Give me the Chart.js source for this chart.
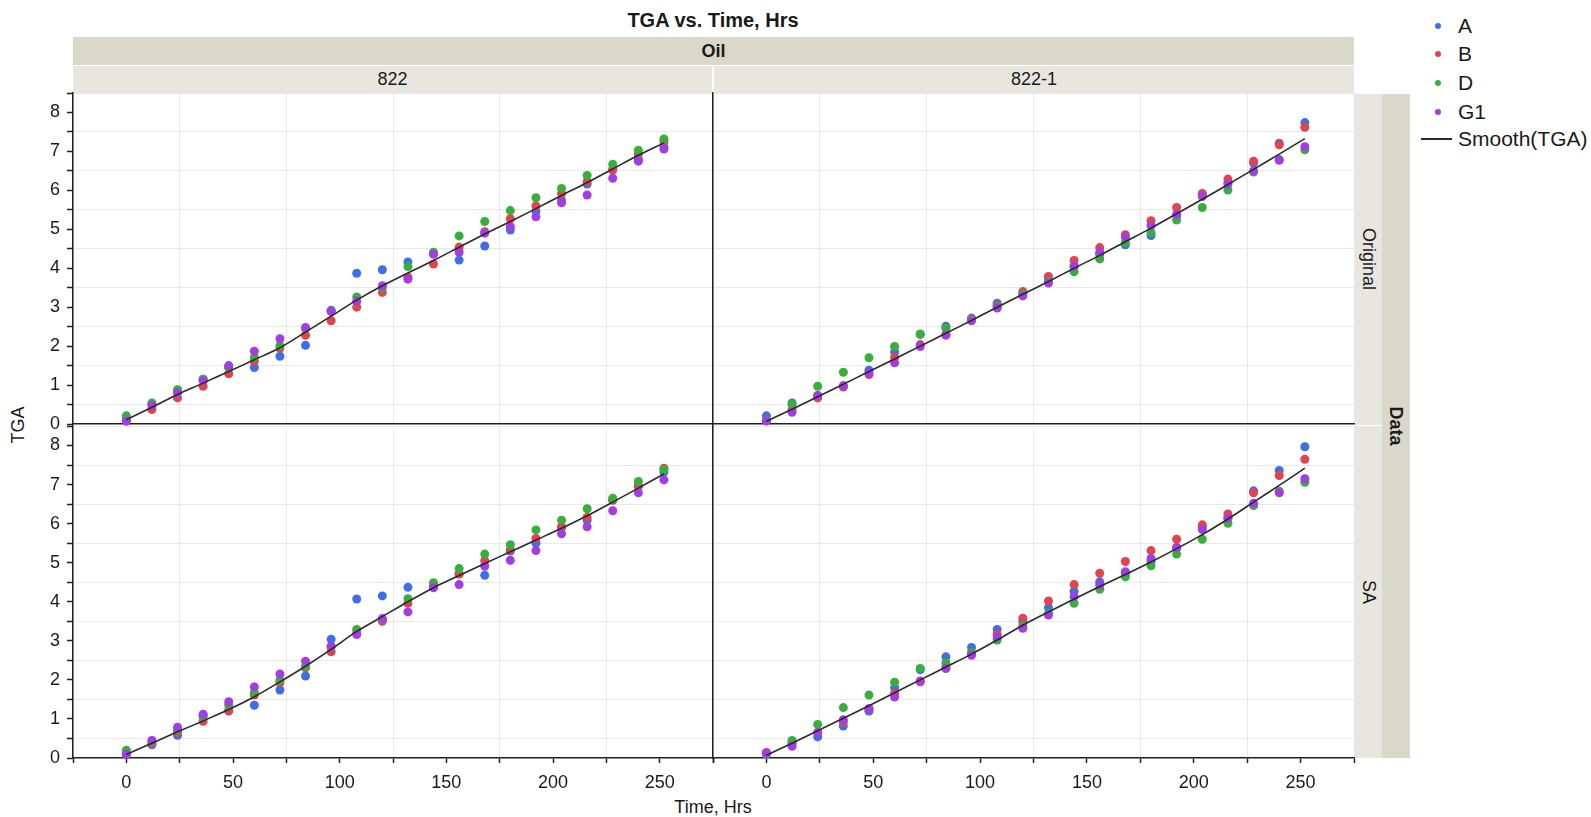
<!DOCTYPE html>
<html>
<head>
<meta charset="utf-8">
<script src="https://cdn.jsdelivr.net/npm/chart.js@4.4.0/dist/chart.umd.min.js"></script>
<style>
html,body{margin:0;padding:0;background:#fff;width:1591px;height:817px;overflow:hidden;
  font-family:"Liberation Sans",Arial,sans-serif;color:#1a1a1a;}
canvas{position:absolute;}
.band{position:absolute;display:flex;align-items:center;justify-content:center;font-size:18px;box-sizing:border-box;}
.rot{position:absolute;white-space:nowrap;font-size:18px;line-height:20px;transform:translate(-50%,-50%) rotate(90deg);}
.rotl{position:absolute;white-space:nowrap;font-size:18px;line-height:20px;transform:translate(-50%,-50%) rotate(-90deg);}
.txt{position:absolute;white-space:nowrap;}
.leg{position:absolute;left:1421px;height:24px;display:flex;align-items:center;font-size:21px;}
.dot{position:absolute;left:14px;width:6px;height:6px;border-radius:50%;}
.ltxt{position:absolute;left:37px;white-space:nowrap;line-height:24px;}
</style>
</head>
<body>
<div class="txt" style="left:0;width:1426px;top:8px;text-align:center;font-weight:bold;font-size:20px;line-height:24px;">TGA vs. Time, Hrs</div>

<div class="band" style="left:73px;top:37px;width:1281px;height:28px;background:#DAD8C9;font-weight:bold;">Oil</div>
<div class="band" style="left:73px;top:66px;width:639px;height:27px;background:#E8E7DF;">822</div>
<div class="band" style="left:714px;top:66px;width:640px;height:27px;background:#E8E7DF;">822-1</div>

<div class="band" style="left:1355px;top:94px;width:27px;height:331px;background:#E8E7DF;"></div>
<div class="band" style="left:1355px;top:426px;width:27px;height:332px;background:#E8E7DF;"></div>
<div class="band" style="left:1382px;top:94px;width:28px;height:664px;background:#DAD8C9;"></div>
<div class="rot" style="left:1369px;top:259px;">Original</div>
<div class="rot" style="left:1369px;top:592px;">SA</div>
<div class="rot" style="left:1396px;top:426px;font-weight:bold;">Data</div>

<div class="rotl" style="left:18px;top:425px;">TGA</div>
<div class="txt" style="left:0;width:1426px;top:796px;text-align:center;font-size:18px;line-height:22px;">Time, Hrs</div>

<canvas id="pTL"></canvas>
<canvas id="pTR"></canvas>
<canvas id="pBL"></canvas>
<canvas id="pBR"></canvas>

<div id="legend"></div>

<script>
// ---- data ----
const hours = [0,12,24,36,48,60,72,84,96,108,120,132,144,156,168,180,192,204,216,228,240,252];
const seriesNames = ['A','B','D','G1'];
const smoothName = 'Smooth(TGA)';
const xTickLabels = ['0','50','100','150','200','250'];
const yTickLabels = ['0','1','2','3','4','5','6','7','8'];

// Oil 822, Data Original
const o822_A  = [0.10,0.50,0.85,1.15,1.45,1.45,1.74,2.02,2.92,3.87,3.96,4.16,4.38,4.21,4.57,4.98,5.46,5.75,6.16,6.55,6.80,7.12];
const o822_B  = [0.10,0.37,0.67,0.97,1.29,1.61,1.95,2.28,2.65,3.00,3.38,3.77,4.11,4.54,4.94,5.27,5.60,5.92,6.22,6.52,6.93,7.25];
const o822_D  = [0.21,0.54,0.88,1.15,1.45,1.71,2.01,2.45,2.90,3.26,3.50,4.04,4.41,4.83,5.20,5.48,5.81,6.05,6.38,6.67,7.03,7.32];
const o822_G1 = [0.07,0.47,0.80,1.11,1.50,1.87,2.19,2.48,2.89,3.15,3.55,3.72,4.36,4.41,4.90,5.07,5.32,5.68,5.88,6.31,6.75,7.06];
const o822_S  = [0.11,0.43,0.76,1.05,1.35,1.65,1.96,2.36,2.77,3.18,3.55,3.88,4.20,4.54,4.88,5.20,5.53,5.87,6.20,6.55,6.90,7.22];

// Oil 822-1, Data Original
const o8221_A  = [0.21,0.54,0.73,0.98,1.38,1.85,2.30,2.51,2.72,3.10,3.35,3.70,4.05,4.35,4.60,4.84,5.35,5.90,6.20,6.70,7.21,7.74];
const o8221_B  = [0.08,0.37,0.67,0.95,1.27,1.71,2.04,2.30,2.70,3.05,3.40,3.79,4.20,4.53,4.86,5.22,5.56,5.92,6.29,6.75,7.17,7.62];
const o8221_D  = [0.09,0.50,0.97,1.33,1.70,1.99,2.31,2.46,2.68,3.02,3.34,3.66,3.91,4.24,4.66,4.91,5.24,5.56,6.01,6.47,6.79,7.04];
const o8221_G1 = [0.08,0.30,0.73,0.98,1.31,1.57,1.99,2.28,2.65,2.98,3.29,3.62,4.05,4.41,4.80,5.09,5.38,5.84,6.16,6.50,6.77,7.12];
const o8221_S  = [0.07,0.38,0.70,1.02,1.35,1.67,2.00,2.33,2.66,3.00,3.33,3.66,4.00,4.33,4.68,5.03,5.40,5.77,6.15,6.54,6.93,7.33];

// Oil 822, Data SA
const s822_A  = [0.10,0.34,0.58,1.10,1.20,1.35,1.74,2.10,3.04,4.07,4.15,4.37,4.40,4.72,4.68,5.30,5.50,5.90,6.09,6.60,6.95,7.32];
const s822_B  = [0.10,0.38,0.65,0.94,1.22,1.61,1.93,2.31,2.72,3.20,3.50,3.96,4.43,4.71,5.05,5.33,5.62,5.92,6.16,6.61,6.97,7.42];
const s822_D  = [0.20,0.42,0.72,1.05,1.35,1.67,1.99,2.35,2.85,3.29,3.55,4.08,4.49,4.85,5.22,5.46,5.84,6.09,6.38,6.65,7.08,7.38];
const s822_G1 = [0.09,0.45,0.79,1.12,1.44,1.82,2.15,2.48,2.86,3.16,3.57,3.74,4.36,4.44,4.91,5.06,5.31,5.74,5.92,6.33,6.79,7.12];
const s822_S  = [0.09,0.38,0.67,0.95,1.24,1.57,1.95,2.35,2.78,3.24,3.62,4.00,4.36,4.67,4.98,5.28,5.58,5.88,6.20,6.55,6.91,7.27];

// Oil 822-1, Data SA
const s8221_A  = [0.12,0.40,0.54,0.82,1.20,1.80,2.26,2.59,2.83,3.29,3.49,3.85,4.27,4.51,4.73,5.03,5.37,5.92,6.16,6.84,7.36,7.97];
const s8221_B  = [0.14,0.37,0.65,0.92,1.26,1.65,1.97,2.33,2.68,3.17,3.58,4.02,4.44,4.73,5.03,5.31,5.60,5.97,6.25,6.79,7.23,7.65];
const s8221_D  = [0.09,0.45,0.86,1.29,1.61,1.94,2.29,2.44,2.70,3.02,3.38,3.70,3.96,4.32,4.64,4.92,5.22,5.60,6.01,6.46,6.83,7.06];
const s8221_G1 = [0.12,0.30,0.65,0.98,1.26,1.56,1.95,2.29,2.63,3.10,3.32,3.66,4.13,4.43,4.77,5.11,5.39,5.85,6.14,6.52,6.79,7.15];
const s8221_S  = [0.07,0.38,0.70,1.02,1.34,1.67,2.00,2.33,2.66,3.02,3.40,3.74,4.07,4.39,4.70,5.02,5.36,5.72,6.12,6.55,6.98,7.42];

// ---- styling ----
const FONT = '"Liberation Sans", Arial, sans-serif';
const seriesColors = ['#3E6FE6','#E0444F','#38AF3D','#A23DE3'];
const lineColor = '#2a2a2a';
const gridColor = '#e8e8e8';
const axisColor = '#202020';

function xLabel(v){ const s = String(v); return xTickLabels.includes(s) ? s : ''; }
function yLabel(v){ const s = String(v); return yTickLabels.includes(s) ? s : ''; }

function panel(id, box, area, rows, showY, showX){
  const cv = document.getElementById(id);
  cv.width = box.w; cv.height = box.h;
  cv.style.left = box.x + 'px'; cv.style.top = box.y + 'px';
  cv.style.width = box.w + 'px'; cv.style.height = box.h + 'px';
  const yW = area.l - box.x, xH = box.y + box.h - area.b;
  const padT = area.t - box.y, padR = box.x + box.w - area.r;
  const pts = arr => hours.map((h,i)=>({x:h, y:arr[i]}));
  const ds = seriesNames.map((n,k)=>({
    label:n, data:pts(rows[k]), backgroundColor:seriesColors[k], borderColor:seriesColors[k],
    borderWidth:0, pointRadius:4.5, pointHoverRadius:4.5, order:4-k, clip:false
  }));
  ds.push({label:smoothName, data:pts(rows[4]), showLine:true, pointRadius:0, borderColor:lineColor,
    borderWidth:1.6, tension:0.3, order:0, fill:false, clip:false});
  new Chart(cv, {
    type:'scatter',
    data:{datasets:ds},
    options:{
      responsive:false, animation:false, devicePixelRatio:1,
      layout:{padding:{left:0, top:padT, right:padR, bottom:0}},
      plugins:{legend:{display:false}, tooltip:{enabled:false}},
      events:[],
      scales:{
        x:{type:'linear', position:'bottom', min:-25, max:275,
          ticks:{display:showX, stepSize:25, autoSkip:false, maxRotation:0, padding:9, color:'#1a1a1a',
                 font:{size:18, family:FONT}, callback:v=>xLabel(v)},
          grid:{color:c=>(c.tick && c.tick.value % 50 !== 0) ? gridColor : 'rgba(0,0,0,0)',
                lineWidth:1, drawTicks:showX, tickLength:5, tickColor:axisColor, tickWidth:1.5},
          border:{display:true, color:axisColor, width:1.5},
          afterFit:s=>{ s.height = xH; s.paddingLeft = 0; s.paddingRight = 0; }
        },
        y:{type:'linear', position:'left', min:0, max:8.5,
          ticks:{display:showY, stepSize:0.5, autoSkip:false, padding:7, color:'#1a1a1a',
                 font:{size:18, family:FONT}, callback:v=>yLabel(v)},
          grid:{color:c=>(c.tick && c.tick.value % 1 !== 0) ? gridColor : 'rgba(0,0,0,0)',
                lineWidth:1, drawTicks:showY, tickLength:6, tickColor:axisColor, tickWidth:1.5},
          border:{display:true, color:axisColor, width:1.5},
          afterFit:s=>{ s.width = yW; s.paddingTop = 0; s.paddingBottom = 0; }
        }
      }
    }
  });
}

panel('pTL', {x:0, y:85, w:720, h:345}, {l:73, r:713, t:93, b:424},
      [o822_A,o822_B,o822_D,o822_G1,o822_S], true, false);
panel('pTR', {x:700, y:85, w:670, h:345}, {l:713, r:1354, t:93, b:424},
      [o8221_A,o8221_B,o8221_D,o8221_G1,o8221_S], false, false);
panel('pBL', {x:0, y:418, w:720, h:380}, {l:73, r:713, t:426, b:758},
      [s822_A,s822_B,s822_D,s822_G1,s822_S], true, true);
panel('pBR', {x:700, y:418, w:670, h:380}, {l:713, r:1354, t:426, b:758},
      [s8221_A,s8221_B,s8221_D,s8221_G1,s8221_S], false, true);

// ---- legend ----
const leg = document.getElementById('legend');
const legY = [26,54,83,112];
seriesNames.forEach((n,k)=>{
  const d = document.createElement('div');
  d.className = 'leg'; d.style.top = (legY[k]-12) + 'px';
  d.innerHTML = '<span class="dot" style="top:9px;background:'+seriesColors[k]+'"></span><span class="ltxt" style="top:0">'+n+'</span>';
  leg.appendChild(d);
});
const dl = document.createElement('div');
dl.className = 'leg'; dl.style.top = (139-12) + 'px';
dl.innerHTML = '<span style="position:absolute;left:0;top:11px;width:31px;height:1.5px;background:'+lineColor+'"></span><span class="ltxt" style="top:0">'+smoothName+'</span>';
leg.appendChild(dl);
</script>
</body>
</html>
